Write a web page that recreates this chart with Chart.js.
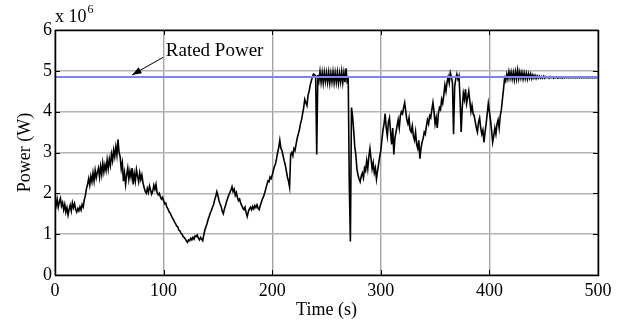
<!DOCTYPE html>
<html>
<head>
<meta charset="utf-8">
<title>Power vs time</title>
<script src="https://cdn.jsdelivr.net/npm/chart.js@4.4.1/dist/chart.umd.min.js"></script>
<style>
  html, body { margin: 0; padding: 0; background: #fff; }
  #wrap { width: 624px; height: 323px; }
</style>
</head>
<body>
<div id="wrap"><canvas id="power-chart" width="624" height="323"></canvas></div>
<script>
// Données (puissance en x 10^6 W, un point par seconde)
const timeStep = 1;
const powerMW = [
  1.80,1.70,1.86,1.66,1.79,1.88,1.69,1.77,1.60,1.73,
  1.54,1.65,1.47,1.61,1.71,1.57,1.77,1.65,1.75,1.61,
  1.54,1.63,1.57,1.67,1.59,1.73,1.67,1.85,1.95,2.12,
  2.22,2.36,2.20,2.42,2.28,2.50,2.30,2.56,2.38,2.52,
  2.62,2.40,2.66,2.46,2.74,2.52,2.70,2.56,2.82,2.60,
  2.84,2.68,2.96,2.80,3.06,2.90,3.14,2.94,3.32,3.00,
  2.90,2.60,2.75,2.30,2.50,2.22,2.45,2.62,2.35,2.55,
  2.40,2.62,2.22,2.48,2.30,2.58,2.42,2.28,2.50,2.34,
  2.45,2.26,2.15,2.05,2.00,2.12,2.02,2.18,2.08,1.98,
  2.05,2.20,2.10,2.22,2.02,1.96,2.00,1.92,1.86,1.90,
  1.82,1.74,1.76,1.66,1.62,1.55,1.52,1.46,1.40,1.36,
  1.30,1.26,1.20,1.18,1.10,1.08,1.02,1.00,0.94,0.92,
  0.88,0.84,0.80,0.86,0.84,0.90,0.86,0.92,0.88,0.96,
  0.94,0.98,0.90,0.86,0.92,0.88,0.84,0.98,1.10,1.18,
  1.26,1.36,1.44,1.52,1.58,1.66,1.72,1.84,1.92,2.04,
  1.95,1.82,1.74,1.68,1.56,1.50,1.62,1.70,1.80,1.88,
  1.96,2.02,2.08,2.16,2.04,2.10,1.95,2.02,1.90,1.82,
  1.86,1.76,1.70,1.64,1.60,1.66,1.52,1.43,1.55,1.62,
  1.66,1.60,1.68,1.62,1.70,1.65,1.72,1.64,1.60,1.70,
  1.78,1.86,1.92,2.00,2.10,2.20,2.30,2.28,2.40,2.36,
  2.45,2.55,2.65,2.72,2.85,3.00,3.12,3.30,3.10,3.05,
  2.92,2.80,2.70,2.55,2.40,2.30,2.15,2.95,3.00,2.92,
  3.10,3.05,3.20,3.35,3.45,3.55,3.70,3.80,3.95,4.10,
  4.30,4.22,4.15,4.40,4.50,4.65,4.75,4.85,4.92,4.90,
  4.88,2.95,4.90,4.75,4.98,4.72,4.95,4.70,4.96,4.74,
  4.95,4.72,4.96,4.70,4.94,4.73,4.97,4.71,4.95,4.72,
  4.96,4.70,4.94,4.73,4.98,4.71,4.95,4.72,5.06,4.74,
  4.80,2.20,0.82,4.10,3.90,3.55,3.15,2.95,2.60,2.45,
  2.35,2.28,2.42,2.50,2.38,2.62,2.55,2.80,2.60,2.90,
  3.10,2.85,2.60,2.75,2.50,2.62,2.35,2.55,2.72,2.90,
  3.05,3.30,3.55,3.70,3.95,3.60,3.40,3.75,3.85,3.50,
  3.20,3.60,2.95,3.35,3.50,3.65,3.80,3.60,3.90,4.00,
  3.95,4.10,4.22,4.00,3.80,3.70,3.85,3.55,3.50,3.65,
  3.40,3.30,3.50,3.20,3.10,3.30,2.85,3.10,3.25,3.35,
  3.50,3.45,3.65,3.80,3.70,3.90,3.85,4.05,4.22,4.00,
  3.70,3.85,3.60,3.95,4.10,4.05,4.30,4.20,4.40,4.65,
  4.50,4.72,4.85,4.70,4.95,4.85,4.70,3.45,4.60,4.80,
  4.92,4.80,4.88,4.30,3.50,4.10,4.45,4.30,4.55,4.20,
  4.35,4.50,4.25,4.00,4.15,3.95,3.90,3.75,3.60,3.50,
  3.75,3.85,3.60,3.45,3.55,3.25,3.50,3.70,3.95,4.20,
  4.00,3.80,3.55,3.25,3.40,3.60,3.45,3.70,3.80,3.60,
  3.90,4.05,4.30,4.55,4.82,4.75,4.92,4.80,4.98,4.82,
  4.97,4.80,4.96,4.78,4.98,4.80,5.02,4.81,4.97,4.82,
  4.96,4.80,4.95,4.81,4.94,4.80,4.93,4.82,4.92,4.81,
  4.90,4.82,4.89,4.81,4.88,4.82,4.87,4.82,4.86,4.82,
  4.87,4.82,4.86,4.83,4.85,4.82,4.86,4.83,4.85,4.82,
  4.85,4.83,4.85,4.82,4.84,4.83,4.85,4.82,4.84,4.83,
  4.84,4.83,4.84,4.83,4.84,4.83,4.84,4.83,4.84,4.83,
  4.84,4.83,4.84,4.83,4.84,4.83,4.84,4.83,4.84,4.83,
  4.84,4.83,4.84,4.83,4.84,4.83,4.84,4.83,4.84,4.83,
  4.83
];
const ratedPowerMW = 4.85;
const xTicks = [0, 100, 200, 300, 400, 500];
const yTicks = [0, 1, 2, 3, 4, 5, 6];

const serif = "'Liberation Serif', 'Times New Roman', serif";
const FONT = { family: serif, size: 18 };

const powerPoints = powerMW.map((v, i) => ({ x: i * timeStep, y: v }));
const ratedPoints = [{ x: xTicks[0], y: ratedPowerMW }, { x: xTicks[xTicks.length - 1], y: ratedPowerMW }];

// Cadre, graduations intérieures, exposant et annotation "Rated Power"
const matlabFrame = {
  id: 'matlabFrame',
  afterDraw(chart) {
    const { ctx, chartArea: a, scales: { x, y } } = chart;
    ctx.save();
    ctx.strokeStyle = '#000';
    ctx.lineWidth = 1;
    ctx.beginPath();
    xTicks.forEach(v => {
      const px = Math.round(x.getPixelForValue(v)) + 0.5;
      ctx.moveTo(px, a.bottom); ctx.lineTo(px, a.bottom - 5);
      ctx.moveTo(px, a.top); ctx.lineTo(px, a.top + 5);
    });
    yTicks.forEach(v => {
      const py = Math.round(y.getPixelForValue(v)) + 0.5;
      ctx.moveTo(a.left, py); ctx.lineTo(a.left + 5, py);
      ctx.moveTo(a.right, py); ctx.lineTo(a.right - 5, py);
    });
    ctx.stroke();
    ctx.lineWidth = 1.5;
    ctx.strokeRect(Math.round(a.left) + 0.5, Math.round(a.top) + 0.5,
      Math.round(a.right - a.left), Math.round(a.bottom - a.top));

    // facteur d'échelle
    ctx.fillStyle = '#000';
    ctx.textBaseline = 'alphabetic';
    ctx.textAlign = 'left';
    ctx.font = `18px ${serif}`;
    ctx.fillText('x 10', a.left, a.top - 8);
    const w = ctx.measureText('x 10').width;
    ctx.font = `12px ${serif}`;
    ctx.fillText('6', a.left + w + 1, a.top - 17);

    // annotation
    ctx.font = `19px ${serif}`;
    ctx.textBaseline = 'middle';
    ctx.fillText('Rated Power', x.getPixelForValue(102), y.getPixelForValue(5.49));
    const x0 = x.getPixelForValue(99.5), y0 = y.getPixelForValue(5.33);
    const x1 = x.getPixelForValue(71), y1 = y.getPixelForValue(4.9);
    ctx.lineWidth = 1;
    ctx.beginPath();
    ctx.moveTo(x0, y0); ctx.lineTo(x1, y1);
    ctx.stroke();
    const ang = Math.atan2(y1 - y0, x1 - x0);
    ctx.beginPath();
    ctx.moveTo(x1, y1);
    ctx.lineTo(x1 - 10 * Math.cos(ang - 0.35), y1 - 10 * Math.sin(ang - 0.35));
    ctx.lineTo(x1 - 10 * Math.cos(ang + 0.35), y1 - 10 * Math.sin(ang + 0.35));
    ctx.closePath();
    ctx.fill();
    ctx.restore();
  }
};

new Chart(document.getElementById('power-chart').getContext('2d'), {
  type: 'line',
  data: {
    datasets: [
      {
        label: 'Rated Power',
        data: ratedPoints,
        borderColor: 'rgb(128,128,255)',
        borderWidth: 2,
        pointRadius: 0,
        order: 0
      },
      {
        label: 'Power',
        data: powerPoints,
        borderColor: '#000',
        borderWidth: 1.6,
        pointRadius: 0,
        tension: 0,
        order: 1
      }
    ]
  },
  options: {
    responsive: false,
    animation: false,
    devicePixelRatio: 1,
    layout: { padding: { top: 30, right: 26, left: 0, bottom: 0 } },
    plugins: { legend: { display: false }, tooltip: { enabled: false } },
    scales: {
      x: {
        type: 'linear',
        min: 0,
        max: 500,
        afterBuildTicks: s => { s.ticks = xTicks.map(v => ({ value: v })); },
        afterFit: s => { s.height = 48; },
        grid: { color: '#a4a4a4', lineWidth: 1.4, drawTicks: false },
        border: { display: false },
        ticks: { padding: 5, color: '#000', font: FONT, maxRotation: 0 },
        title: { display: true, text: 'Time (s)', color: '#000', font: FONT, padding: { top: 0, bottom: 2 } }
      },
      y: {
        min: 0,
        max: 6,
        afterBuildTicks: s => { s.ticks = yTicks.map(v => ({ value: v })); },
        afterFit: s => { s.width = 55; },
        grid: { color: '#b4b4b4', lineWidth: 1.4, drawTicks: false },
        border: { display: false },
        ticks: { padding: 3, color: '#000', font: FONT },
        title: { display: true, text: 'Power (W)', color: '#000', font: FONT, padding: { top: 14, bottom: 0 } }
      }
    }
  },
  plugins: [matlabFrame]
});
</script>
</body>
</html>
